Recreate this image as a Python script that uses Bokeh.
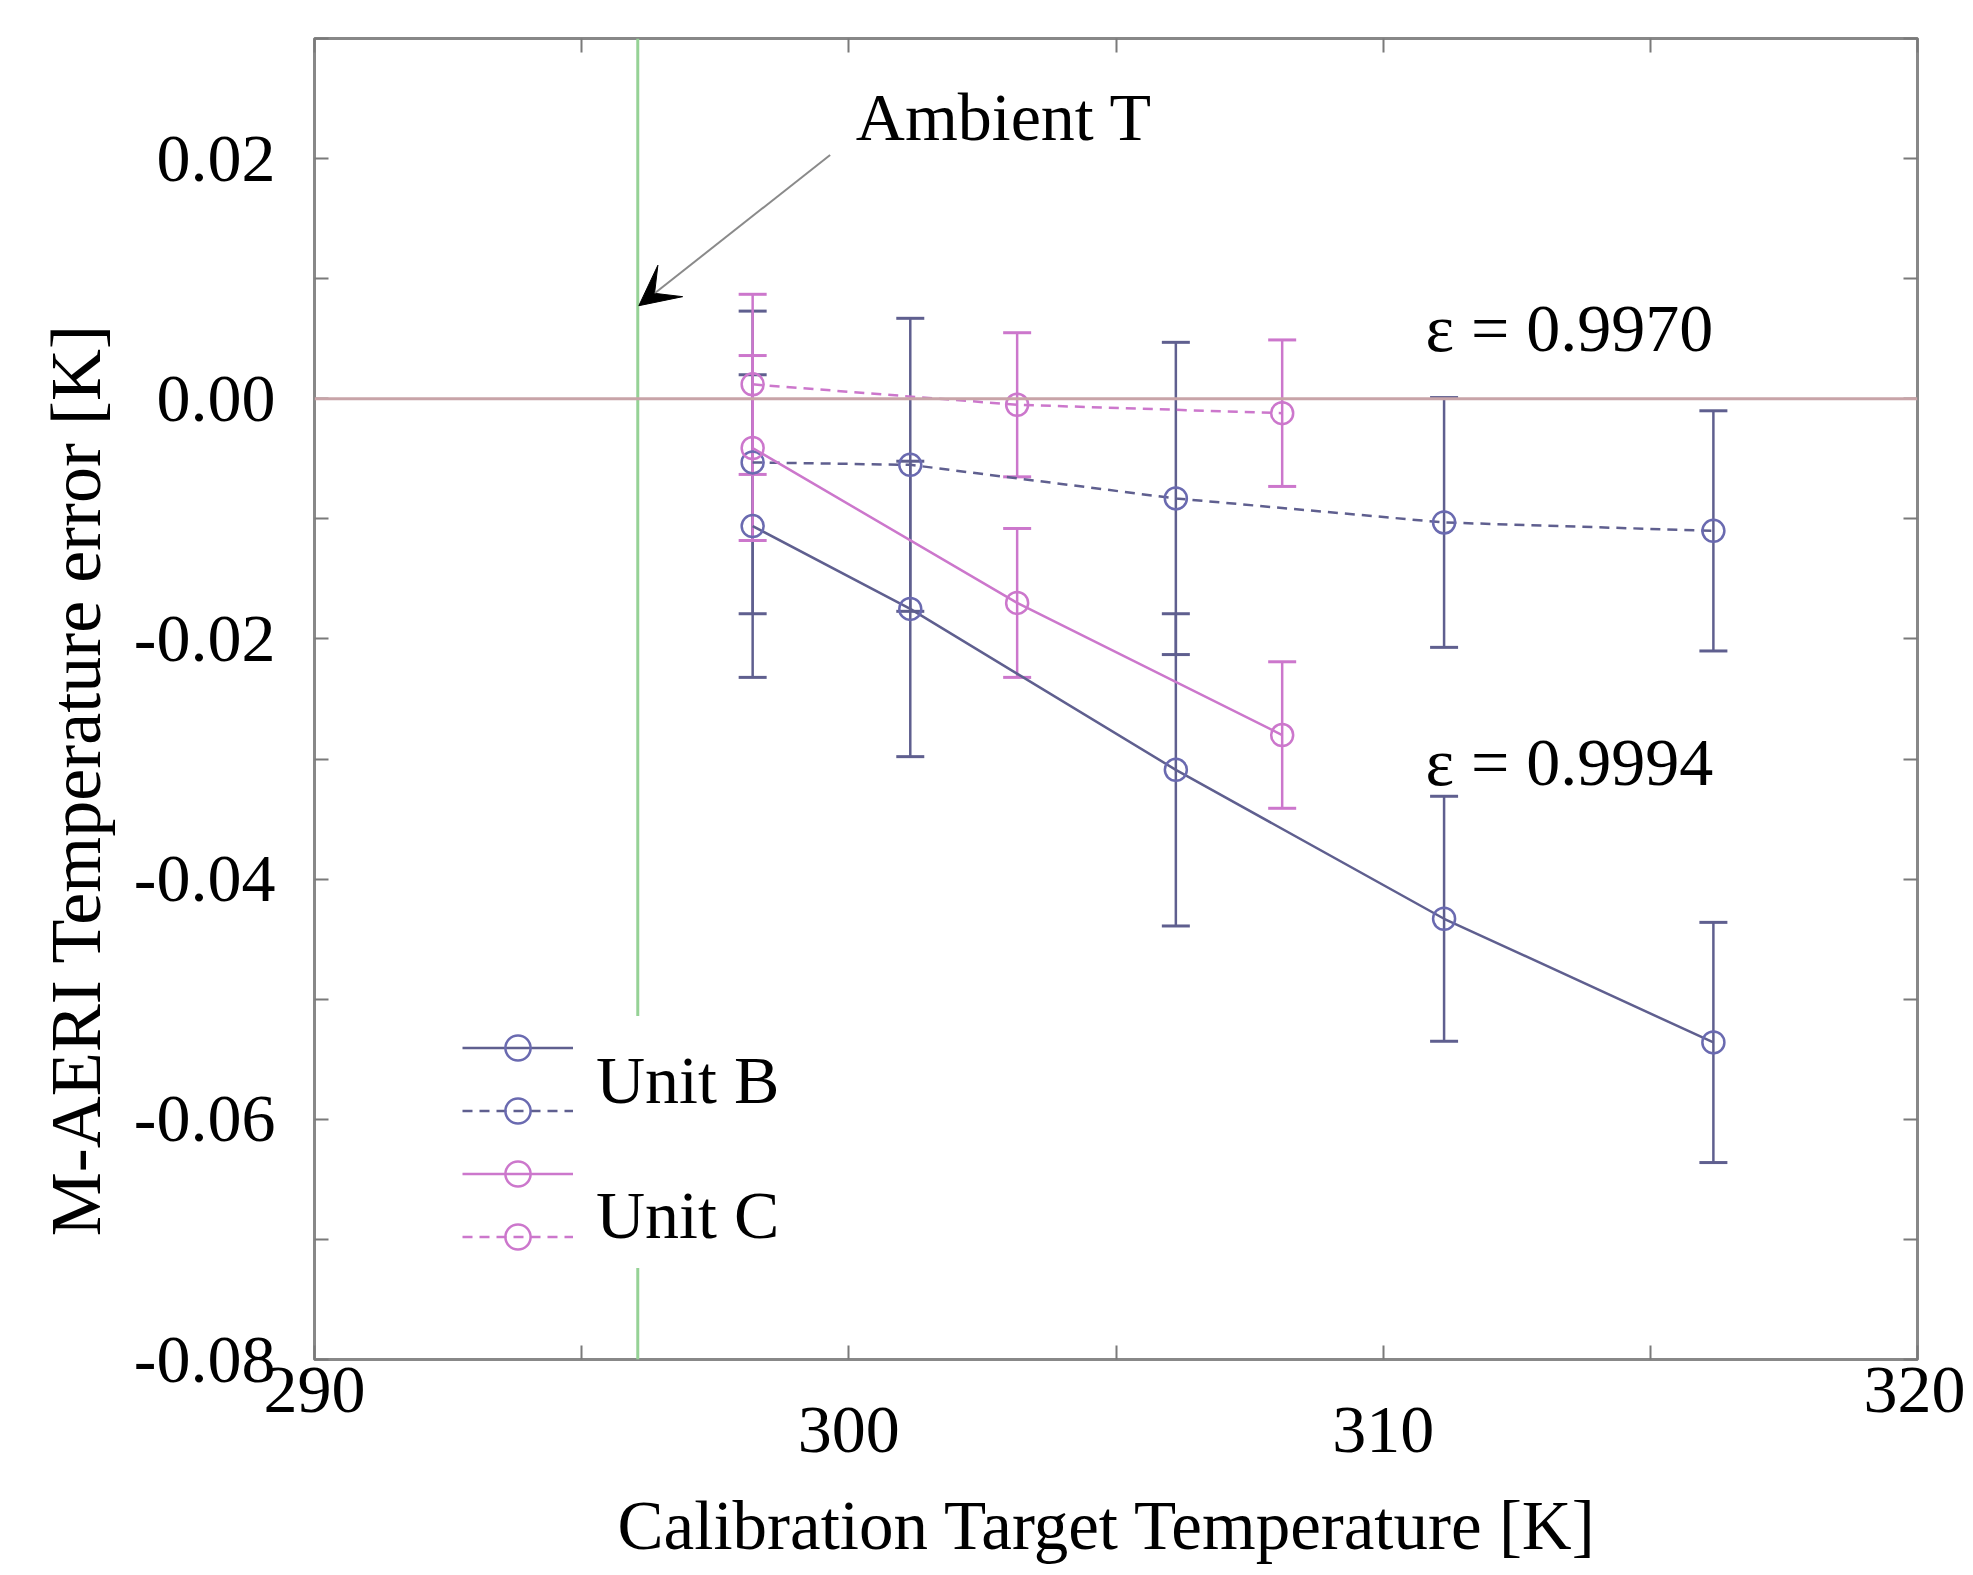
from bokeh.plotting import figure
from bokeh.models import (ColumnDataSource, Whisker, TeeHead, Span, Arrow, VeeHead,
                          Label, LinearAxis, FixedTicker, Legend, LegendItem, Range1d,
                          PrintfTickFormatter, Grid)
from bokeh.embed import file_html
from bokeh.resources import INLINE

FONT = "Liberation Serif"
FS = "68px"

# ---- data ----
x_unit_b = [298.2, 301.15, 306.12, 311.14, 316.18]
unit_b_solid = [-0.0106, -0.0175, -0.0309, -0.0433, -0.0536]
unit_b_solid_err = [0.0126, 0.0123, 0.0130, 0.0102, 0.0100]
unit_b_dashed = [-0.0053, -0.0055, -0.0083, -0.0103, -0.0110]
unit_b_dashed_err = [0.0126, 0.0122, 0.0130, 0.0104, 0.0100]

x_unit_c = [298.2, 303.15, 308.11]
unit_c_solid = [-0.0041, -0.0170, -0.0280]
unit_c_solid_err = [0.0077, 0.0062, 0.0061]
unit_c_dashed = [0.0012, -0.0005, -0.0012]
unit_c_dashed_err = [0.0075, 0.0060, 0.0061]

ambient_temperature = 296.05

x_edge_ticks = [290, 320]
x_mid_ticks = [300, 310]
x_minor_ticks = [295, 300, 305, 310, 315]
x_all_ticks = [290, 295, 300, 305, 310, 315, 320]
y_major_ticks = [-0.08, -0.06, -0.04, -0.02, 0.0, 0.02]
y_minor_ticks = [-0.07, -0.05, -0.03, -0.01, 0.01, 0.03]
y_all_ticks = [-0.08, -0.07, -0.06, -0.05, -0.04, -0.03, -0.02, -0.01, 0.0, 0.01, 0.02, 0.03]

unit_labels = ["Unit B", "Unit C"]
y_title = "M-AERI Temperature error [K]"
x_title = "Calibration Target  Temperature [K]"

COL_B = "#5f5f8f"
COL_B_MARK = "#6a6ab0"
COL_C = "#cc77cc"
COL_ZERO = "#c8a4a8"
COL_GREEN = "#96d296"
TICK_COL = "#7a7a7a"

X0, X1 = 290, 320
Y0, Y1 = -0.08, 0.03

p = figure(width=1965, height=1567,
           x_range=Range1d(X0, X1), y_range=Range1d(Y0, Y1),
           x_axis_location=None, y_axis_location=None,
           output_backend="svg", toolbar_location=None,
           min_border_left=314, min_border_right=48,
           min_border_top=38, min_border_bottom=208)
for r in list(p.center):
    if isinstance(r, Grid):
        r.visible = False
p.outline_line_color = "#888888"
p.outline_line_width = 3
p.background_fill_color = "white"
p.border_fill_color = "white"


def style_axis(ax):
    ax.axis_line_color = None
    ax.major_tick_in = 14
    ax.major_tick_out = 0
    ax.minor_tick_in = 14
    ax.minor_tick_out = 0
    ax.major_tick_line_color = TICK_COL
    ax.minor_tick_line_color = TICK_COL
    ax.major_tick_line_width = 2
    ax.minor_tick_line_width = 2
    ax.major_label_text_font = FONT
    ax.major_label_text_font_size = FS
    ax.major_label_text_color = "black"
    ax.axis_label_text_font = FONT
    ax.axis_label_text_font_size = "69px"
    ax.axis_label_text_font_style = "normal"
    ax.axis_label_text_color = "black"


# left axis (title padded with no-break spaces so it sits below the middle, as in the original)
yl = LinearAxis(ticker=FixedTicker(ticks=y_major_ticks, minor_ticks=y_minor_ticks),
                formatter=PrintfTickFormatter(format="%.2f"),
                axis_label=y_title + "\u00a0" * 9)
style_axis(yl)
yl.major_label_standoff = 39
yl.axis_label_standoff = 15
yl.axis_label_text_font_size = "72px"
p.add_layout(yl, "left")

# bottom axis A: ticks, labels at 290 and 320
xa = LinearAxis(ticker=FixedTicker(ticks=x_edge_ticks, minor_ticks=x_minor_ticks))
style_axis(xa)
xa.major_label_standoff = 8
p.add_layout(xa, "below")

# bottom axis B: labels at 300 and 310 (staggered lower) + title
xb = LinearAxis(ticker=FixedTicker(ticks=x_mid_ticks, minor_ticks=[]),
                axis_label=x_title)
style_axis(xb)
xb.major_tick_in = 0
xb.major_tick_line_color = None
xb.minor_tick_line_color = None
xb.major_label_standoff = -7
xb.axis_label_standoff = 33
p.add_layout(xb, "below")

# mirrored inner ticks on the right and top edges (minor ticks only -> no labels)
yr = LinearAxis(ticker=FixedTicker(ticks=[], minor_ticks=y_all_ticks))
style_axis(yr)
p.add_layout(yr, "right")
xt = LinearAxis(ticker=FixedTicker(ticks=[], minor_ticks=x_all_ticks))
style_axis(xt)
p.add_layout(xt, "above")

# reference lines
p.add_layout(Span(location=ambient_temperature, dimension="height",
                  line_color=COL_GREEN, line_width=3))
p.add_layout(Span(location=0.0, dimension="width",
                  line_color=COL_ZERO, line_width=3))


def series(xs, ys, errs, color, mcolor, dash):
    src = ColumnDataSource(dict(x=xs, y=ys,
                                upper=[a + b for a, b in zip(ys, errs)],
                                lower=[a - b for a, b in zip(ys, errs)]))
    w = Whisker(source=src, base="x", upper="upper", lower="lower",
                line_color=color, line_width=2.5,
                upper_head=TeeHead(size=28, line_color=color, line_width=3),
                lower_head=TeeHead(size=28, line_color=color, line_width=3))
    p.add_layout(w)
    ln = p.line("x", "y", source=src, line_color=color, line_width=2.5,
                line_dash=dash)
    sc = p.scatter("x", "y", source=src, marker="circle", size=22,
                   fill_color=None, line_color=mcolor, line_width=2.5)
    return [ln, sc]


r_b_solid = series(x_unit_b, unit_b_solid, unit_b_solid_err, COL_B, COL_B_MARK, "solid")
r_b_dash = series(x_unit_b, unit_b_dashed, unit_b_dashed_err, COL_B, COL_B_MARK, "10 7")
r_c_solid = series(x_unit_c, unit_c_solid, unit_c_solid_err, COL_C, COL_C, "solid")
r_c_dash = series(x_unit_c, unit_c_dashed, unit_c_dashed_err, COL_C, COL_C, "10 7")

# annotations
p.add_layout(Arrow(end=VeeHead(size=40, fill_color="black", line_color="black"),
                   x_start=299.65, y_start=0.0203, x_end=296.07, y_end=0.00775,
                   line_color="#8a8a8a", line_width=2))
for txt, tx, ty in [("Ambient T", 300.13, 0.02345),
                    ("\u03b5 = 0.9970", 310.79, 0.00586),
                    ("\u03b5 = 0.9994", 310.79, -0.03026)]:
    p.add_layout(Label(x=tx, y=ty, text=txt, text_font=FONT, text_font_size=FS,
                       text_baseline="middle", text_align="left", text_color="black"))

# legend 1: four glyph rows on a white box (hides the ambient line)
NB = "\u00a0"
legend_glyphs = Legend(items=[LegendItem(label=NB, renderers=r_b_solid),
                              LegendItem(label=NB + NB, renderers=r_b_dash),
                              LegendItem(label=NB + NB + NB, renderers=r_c_solid),
                              LegendItem(label=NB + NB + NB + NB, renderers=r_c_dash)],
                       location=(148, 91), orientation="vertical",
                       glyph_width=111, glyph_height=63, label_height=20, label_width=190,
                       spacing=0, label_standoff=25, padding=26, margin=0,
                       label_text_font=FONT, label_text_font_size="16px",
                       border_line_color=None, background_fill_color="white",
                       background_fill_alpha=1.0)
p.add_layout(legend_glyphs, "center")

# legend 2: the unit names, each centred between its pair of glyph rows
legend_names = Legend(items=[LegendItem(label=unit_labels[0], renderers=[]),
                             LegendItem(label=unit_labels[1], renderers=[])],
                      location=(281, 104), orientation="vertical",
                      glyph_width=1, glyph_height=20, label_height=20,
                      spacing=56, label_standoff=0, padding=0, margin=0,
                      label_text_font=FONT, label_text_font_size=FS,
                      label_text_color="black",
                      border_line_color=None, background_fill_alpha=0.0)
p.add_layout(legend_names, "center")

open("out.html", "w").write(file_html(p, INLINE))
